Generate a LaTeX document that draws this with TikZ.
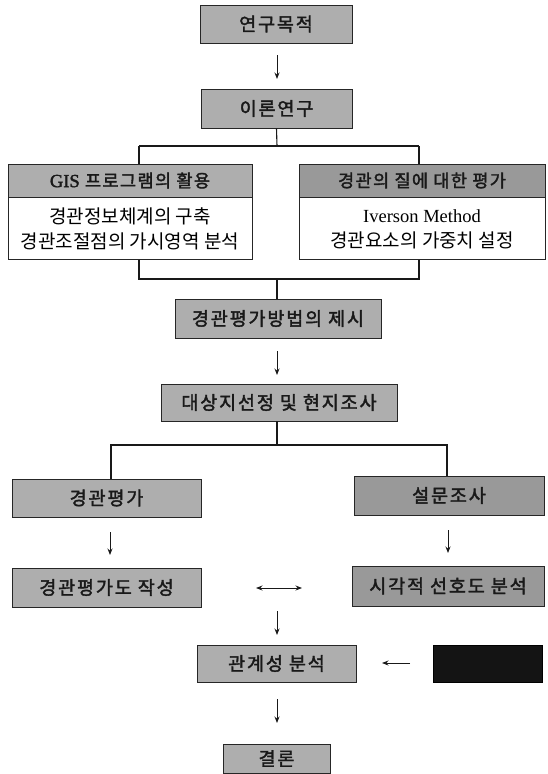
\documentclass[tikz,border=0pt]{standalone}
\usepackage{fontspec}
\newfontfamily\kr{Noto Sans CJK KR}
\newfontfamily\krb[FakeBold=2,LetterSpace=10]{Noto Sans CJK KR}
\newfontfamily\krh[FakeBold=2,LetterSpace=8]{Noto Sans CJK KR}
\newfontfamily\lat{Liberation Serif}
\newfontfamily\latb[FakeBold=2]{Liberation Serif}
\usetikzlibrary{arrows.meta}
\definecolor{boxgray}{HTML}{AEAEAE}
\definecolor{darkgray}{HTML}{999999}
\begin{document}
\begin{tikzpicture}[x=1pt,y=-1pt,
  gbox/.style={draw=black!85, line width=0.9pt, fill=boxgray, inner sep=0pt,
    font=\krb\fontsize{18.5}{20}\selectfont, text=black!90},
  hbox/.style={draw=black!85, line width=0.9pt, fill=boxgray, inner sep=0pt,
    font=\krh\fontsize{17.5}{18}\selectfont, text=black!90},
  wbox/.style={draw=black!85, line width=0.9pt, fill=white, inner sep=0pt, align=center,
    font=\kr\fontsize{19}{25}\selectfont},
  conn/.style={line width=1.1pt, draw=black!90},
  arr/.style={line width=0.9pt, draw=black!90, -{Stealth[length=6.5pt,width=5pt]}},
  darr/.style={line width=0.9pt, draw=black!90, {Stealth[length=6.5pt,width=5pt]}-{Stealth[length=6.5pt,width=5pt]}}
]
\useasboundingbox (0,0) rectangle (547,774);

% boxes
\node[gbox, minimum width=152pt, minimum height=38pt] (A) at (276,24) {연구목적};
\node[gbox, minimum width=151pt, minimum height=39pt] (B) at (276.5,108.5) {이론연구};

\node[hbox, minimum width=244pt, minimum height=33pt] (Lh) at (130,180.5) {{\latb\fontsize{18.5}{18}\selectfont GIS} 프로그램의 활용};
\node[wbox, minimum width=244pt, minimum height=62pt, anchor=north] (Lb) at (Lh.south) {경관정보체계의 구축\\경관조절점의 가시영역 분석};
\node[hbox, minimum width=246pt, minimum height=33pt, fill=darkgray] (Rh) at (422,180.5) {경관의 질에 대한 평가};
\node[wbox, minimum width=246pt, minimum height=62pt, anchor=north] (Rb) at (Rh.south) {{\lat\fontsize{18.5}{25}\selectfont Iverson Method}\\경관요소의 가중치 설정};

\node[gbox, minimum width=206pt, minimum height=39pt] (C) at (278,318.5) {경관평가방법의 제시};
\node[gbox, minimum width=236pt, minimum height=37pt] (D) at (279,402.5) {대상지선정 및 현지조사};

\node[gbox, minimum width=189pt, minimum height=38pt] (E) at (106.5,498) {경관평가};
\node[gbox, minimum width=190pt, minimum height=39pt, fill=darkgray] (F) at (449,495.5) {설문조사};
\node[gbox, minimum width=189pt, minimum height=39pt] (G) at (106.5,587.5) {경관평가도 작성};
\node[gbox, minimum width=192pt, minimum height=40pt, fill=darkgray] (H) at (448,586) {시각적 선호도 분석};

\node[gbox, minimum width=159pt, minimum height=37pt] (I) at (276.5,663.5) {관계성 분석};
\node[draw=black, line width=0.9pt, fill=black!92, minimum width=109pt, minimum height=37pt, inner sep=0pt] (J) at (487.5,663.5) {};
\node[gbox, minimum width=107pt, minimum height=29pt] (K) at (276.5,758.5) {결론};

% arrows (free ends as named coordinates)
\coordinate (a1s) at (277,55);  \coordinate (a1e) at (277,79);
\draw[arr] (a1s) -- (a1e);
\coordinate (a2s) at (277,351); \coordinate (a2e) at (277,375);
\draw[arr] (a2s) -- (a2e);
\coordinate (a3s) at (110,532); \coordinate (a3e) at (110,555);
\draw[arr] (a3s) -- (a3e);
\coordinate (a4s) at (448,530); \coordinate (a4e) at (448,553);
\draw[arr] (a4s) -- (a4e);
\coordinate (d1) at (256,588); \coordinate (d2) at (302,588);
\draw[darr] (d1) -- (d2);
\coordinate (a5s) at (277,611); \coordinate (a5e) at (277,635);
\draw[arr] (a5s) -- (a5e);
\coordinate (a6s) at (410,663); \coordinate (a6e) at (382,663);
\draw[arr] (a6s) -- (a6e);
\coordinate (a7s) at (277,699); \coordinate (a7e) at (277,723);
\draw[arr] (a7s) -- (a7e);

% tree connectors
\coordinate (t1) at (277,146);
\coordinate (t1L) at (139,146);
\coordinate (t1R) at (419,146);
\draw[conn] (B.south) -- (t1);
\draw[conn] (t1L) -- (t1R);
\draw[conn] (t1L) -- (t1L |- Lh.north);
\draw[conn] (t1R) -- (t1R |- Rh.north);

\coordinate (t2) at (277,279);
\coordinate (t2L) at (139,279);
\coordinate (t2R) at (419,279);
\draw[conn] (t2L |- Lb.south) -- (t2L) -- (t2R) -- (t2R |- Rb.south);
\draw[conn] (t2) -- (t2 |- C.north);

\coordinate (t3) at (277,445);
\coordinate (t3L) at (111,445);
\coordinate (t3R) at (447,445);
\draw[conn] (t3 |- D.south) -- (t3);
\draw[conn] (t3L |- E.north) -- (t3L) -- (t3R) -- (t3R |- F.north);
\end{tikzpicture}
\end{document}
